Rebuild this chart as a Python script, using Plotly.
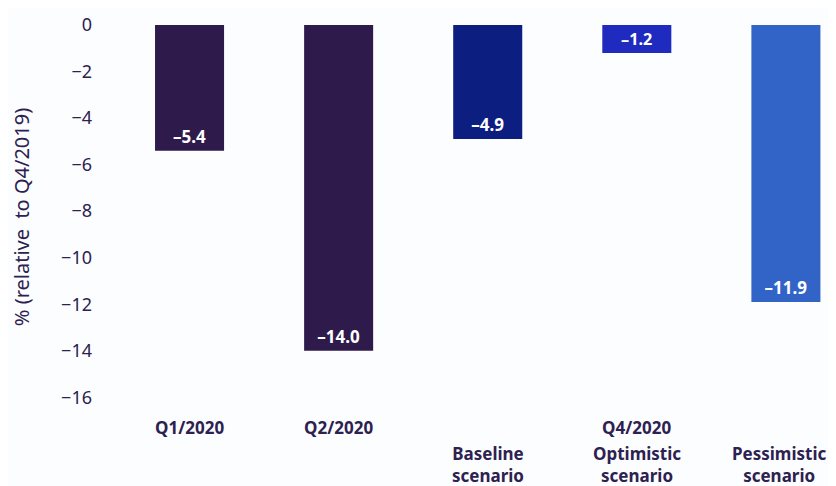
import plotly.graph_objects as go

categories = ["Q1/2020", "Q2/2020", "Baseline scenario", "Optimistic scenario", "Pessimistic scenario"]
values = [-5.4, -14.0, -4.9, -1.2, -11.9]
labels = ["–5.4", "–14.0", "–4.9", "–1.2", "–11.9"]
colors = ["#2e1b4b", "#2e1b4b", "#0c1e80", "#1f2bbf", "#3264c8"]
tick_vals = [0, -2, -4, -6, -8, -10, -12, -14, -16]

ink = "#2d2150"
bg = "#fcfdff"
fam = "Noto Sans"

W, H = 828, 478
T, B = 10, 70

xs = list(range(len(categories)))

fig = go.Figure()
fig.add_trace(go.Bar(
    x=xs, y=values, width=0.463,
    marker=dict(color=colors, line=dict(width=0)),
    text=labels, textposition="inside", insidetextanchor="end",
    textfont=dict(color="white", size=17, family=fam, weight="bold"),
    textangle=0, hoverinfo="skip",
))

# category labels under the bars (y in figure pixels)
rows = [
    ("<b>Q1/2020</b>", 0, 420, 0), ("<b>Q2/2020</b>", 1, 420, 0),
    ("<b>Q4/2020</b>", 3, 420, 0),
    ("<b>Baseline<br>scenario</b>", 2, 456, 0),
    ("<b>Optimistic<br>scenario</b>", 3, 456, 0),
    ("<b>Pessimistic<br>scenario</b>", 4, 456, -6),
]
for txt, xi, ypx, dx in rows:
    fig.add_annotation(
        x=xi, xref="x", y=(H - B - ypx) / (H - T - B), yref="paper",
        text=txt, showarrow=False, yanchor="middle", xshift=dx,
        font=dict(size=17, color=ink, family=fam), align="center",
    )

fig.update_layout(
    width=W, height=H,
    margin=dict(l=107, r=0, t=T, b=B),
    paper_bgcolor=bg, plot_bgcolor=bg,
    showlegend=False,
    font=dict(family=fam, color=ink),
    xaxis=dict(range=[-0.5, 4.336], showticklabels=False, showgrid=False,
               zeroline=False, showline=False, fixedrange=True),
    yaxis=dict(range=[-16.8, 0.3], tickvals=tick_vals, showgrid=False,
               zeroline=False, showline=False, ticklabelstandoff=22,
               tickfont=dict(size=18, color=ink),
               title=dict(text="% (relative  to Q4/2019)", standoff=34,
                          font=dict(size=20, color=ink))),
)

fig.write_html("out.html")
